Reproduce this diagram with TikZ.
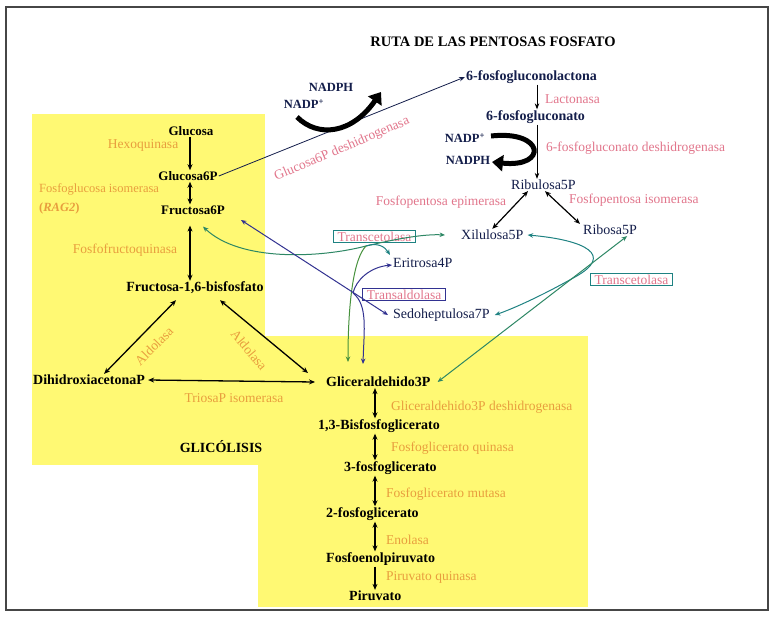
\documentclass[tikz,border=0pt]{standalone}
\usepackage{fontspec}
\setmainfont{Liberation Serif}
\usetikzlibrary{arrows.meta,calc}
\definecolor{ylw}{RGB}{255,249,115}
\definecolor{navyc}{RGB}{20,30,75}
\definecolor{pinkc}{RGB}{226,118,140}
\definecolor{orangec}{RGB}{232,158,62}
\definecolor{tealc}{RGB}{30,130,130}
\definecolor{greenc}{RGB}{70,145,60}
\definecolor{tgreen}{RGB}{45,135,100}
\definecolor{bluec}{RGB}{50,50,145}
\definecolor{framec}{RGB}{70,70,70}
\tikzset{
  gnode/.style={font=\fontsize{14}{16}\selectfont\bfseries, inner sep=1pt, text=black},
  gsmall/.style={font=\fontsize{13}{15}\selectfont\bfseries, inner sep=1pt, text=black},
  pnode/.style={font=\fontsize{14}{16}\selectfont, inner sep=1pt, text=navyc},
  pbold/.style={font=\fontsize{14}{16}\selectfont\bfseries, inner sep=1pt, text=navyc},
  nadp/.style={font=\fontsize{12.5}{15}\selectfont\bfseries, inner sep=1pt, text=navyc},
  enzp/.style={font=\fontsize{13.5}{16}\selectfont, inner sep=1pt, text=pinkc},
  enzo/.style={font=\fontsize{13.5}{16}\selectfont, inner sep=1pt, text=orangec},
  tbox/.style={font=\fontsize{13.5}{16}\selectfont, text=pinkc, draw=tealc, line width=0.9pt, inner xsep=4pt, inner ysep=1.5pt},
  abox/.style={font=\fontsize{13.5}{16}\selectfont, text=pinkc, draw=bluec, line width=0.9pt, inner xsep=4pt, inner ysep=1.5pt},
  tip/.tip={Stealth[length=6pt,width=5pt]},
  blk/.style={draw=black, line width=1.3pt, -tip},
  blkd/.style={draw=black, line width=1.3pt, tip-tip},
  thin/.style={draw=black, line width=0.8pt, -{Stealth[length=6pt,width=4.5pt]}},
  thinl/.style={draw=navyc, line width=0.8pt, -{Stealth[length=6pt,width=4.5pt]}},
  ctip/.tip={Stealth[length=5.5pt,width=4.5pt]},
  tgc/.style={draw=tgreen, line width=1pt},
  grc/.style={draw=greenc, line width=1pt},
  tlc/.style={draw=tealc, line width=1pt},
  blc/.style={draw=bluec, line width=1pt},
  fat/.style={draw=black, line width=5pt, -{Triangle[length=11pt,width=16pt]}},
}
\begin{document}
\begin{tikzpicture}[x=1pt,y=-1pt]
\useasboundingbox (0,0) rectangle (774,616);
\fill[white] (0,0) rectangle (774,616);
% yellow areas
\fill[ylw] (32,114) rectangle (265,465);
\fill[ylw] (258,336) rectangle (588,607);
% frame
\draw[framec, line width=1.4pt] (6,7) rectangle (768,610);

% titles
\node[font=\fontsize{14.5}{16}\selectfont\bfseries] (title) at (493,42) {RUTA DE LAS PENTOSAS FOSFATO};
\node[font=\fontsize{14}{16}\selectfont\bfseries] (glic) at (221,447) {GLICÓLISIS};

% column references
\coordinate (colg) at (190,0);
\coordinate (coll) at (375,0);
\coordinate (colp) at (537,0);

% glycolysis nodes
\node[gsmall] (glc) at (191,131) {Glucosa};
\node[gsmall] (g6p) at (188,176) {Glucosa6P};
\node[gsmall] (f6p) at (193,210) {Fructosa6P};
\node[gnode] (f16) at (195,288) {Fructosa-1,6-bisfosfato};
\node[gnode, anchor=west] (dhap) at (32,380) {DihidroxiacetonaP};
\node[gnode, anchor=west] (g3p) at (325,382) {Gliceraldehido3P};
\node[gnode, anchor=west] (bpg) at (317,426) {1,3-Bisfosfoglicerato};
\node[gnode, anchor=west] (pg3) at (343,468) {3-fosfoglicerato};
\node[gnode, anchor=west] (pg2) at (325,514) {2-fosfoglicerato};
\node[gnode, anchor=west] (pep) at (325,559) {Fosfoenolpiruvato};
\node[gnode, anchor=west] (pyr) at (348,596) {Piruvato};

% pentose nodes
\node[pbold, anchor=west] (lac) at (465,77) {6-fosfogluconolactona};
\node[pbold, anchor=west] (pgn) at (485,117) {6-fosfogluconato};
\node[pnode, anchor=west] (ru5p) at (510,185) {Ribulosa5P};
\node[pnode, anchor=west] (xu5p) at (460,235) {Xilulosa5P};
\node[pnode, anchor=west] (r5p) at (582,230) {Ribosa5P};
\node[pnode, anchor=west] (e4p) at (392,263) {Eritrosa4P};
\node[pnode, anchor=west] (s7p) at (392,315) {Sedoheptulosa7P};
\node[nadp] (nadph1) at (331,87) {NADPH};
\node[nadp] (nadp1) at (304,104) {NADP\textsuperscript{+}};
\node[nadp] (nadp2) at (465,138) {NADP\textsuperscript{+}};
\node[nadp] (nadph2) at (468,160) {NADPH};

% enzyme boxes
\node[tbox] (tk1) at (374.5,236.5) {Transcetolasa};
\node[abox] (ta) at (404,294.5) {Transaldolasa};
\node[tbox] (tk2) at (631.5,279.5) {Transcetolasa};

% pentose enzymes
\node[enzp, anchor=west] (lactonasa) at (544,99) {Lactonasa};
\node[enzp, anchor=west] (pgdh) at (545,148) {6-fosfogluconato deshidrogenasa};
\node[enzp] (epim) at (441,202) {Fosfopentosa epimerasa};
\node[enzp, anchor=west] (isom) at (568,200) {Fosfopentosa isomerasa};
\node[enzp, rotate=23] (g6pdh) at (342,149) {Glucosa6P deshidrogenasa};

% glycolysis enzymes
\node[enzo] (hk) at (143,145) {Hexoquinasa};
\node[enzo, anchor=west, font=\fontsize{12.5}{15}\selectfont] (pgi) at (38,189) {Fosfoglucosa isomerasa};
\node[enzo, anchor=west, font=\fontsize{12.5}{15}\selectfont\bfseries] (rag) at (38,208) {(\textit{RAG2})};
\node[enzo] (pfk) at (125,250) {Fosfofructoquinasa};
\node[enzo, rotate=45] (ald1) at (154,346) {Aldolasa};
\node[enzo, rotate=-50] (ald2) at (249,350) {Aldolasa};
\node[enzo] (tpi) at (234,398) {TriosaP isomerasa};
\node[enzo, anchor=west] (gapdh) at (390,407) {Gliceraldehido3P deshidrogenasa};
\node[enzo, anchor=west] (pgk) at (390,448) {Fosfoglicerato quinasa};
\node[enzo, anchor=west] (pgm) at (385,494) {Fosfoglicerato mutasa};
\node[enzo, anchor=west] (eno) at (385,540) {Enolasa};
\node[enzo, anchor=west] (pk) at (385,577) {Piruvato quinasa};

% glycolysis arrows
\draw[blk] (glc.south -| colg) -- (g6p.north -| colg);
\draw[blkd] (g6p.south -| colg) -- (f6p.north -| colg);
\draw[blkd, shorten <=10pt] (f6p.south -| colg) -- (f16.north -| colg);
\draw[blkd] ([xshift=-19pt,yshift=-5pt]f16.south) -- ([xshift=15pt]dhap.north);
\draw[blkd] ([xshift=25pt,yshift=-5pt]f16.south) -- ([xshift=-17pt,yshift=9pt]g3p.west);
\draw[blkd] ([xshift=2pt]dhap.east) -- ([xshift=-10pt]g3p.west);
\draw[blkd] (g3p.south -| coll) -- (bpg.north -| coll);
\draw[blkd] (bpg.south -| coll) -- (pg3.north -| coll);
\draw[blkd] (pg3.south -| coll) -- (pg2.north -| coll);
\draw[blkd] (pg2.south -| coll) -- (pep.north -| coll);
\draw[blk] (pep.south -| coll) -- (pyr.north -| coll);

% pentose arrows
\draw[thinl] (g6p.east) -- (lac.west);
\draw[thin] (lac.south -| colp) -- (pgn.north -| colp);
\draw[thin] (pgn.south -| colp) -- (ru5p.north -| colp);
\draw[draw=black, line width=1.2pt, tip-tip] ([xshift=18pt]ru5p.south west) -- (xu5p.north);
\draw[draw=black, line width=1.2pt, tip-tip] ([xshift=35pt]ru5p.south west) -- ([xshift=-2pt]r5p.north west);

% NADP thick arrows
\coordinate (na1s) at (297,117);
\coordinate (na1e) at (381,92);
\draw[fat] (na1s) .. controls (318,138) and (352,134) .. (na1e);
\coordinate (na2s) at (491,136);
\coordinate (na2e) at (492,162);
\draw[fat] (na2s) .. controls (545,130) and (548,168) .. (na2e);

% transketolase / transaldolase connectors
\coordinate (hub1) at (366,246);
\coordinate (hub2) at (353,293);
\draw[tgc, ctip-ctip] ([xshift=10pt,yshift=-11pt]f6p.south) .. controls (240,262) and (320,258) .. (hub1) .. controls (400,238) and (425,234) .. ([xshift=-15pt]xu5p.west);
\draw[tlc, -ctip] (hub1) .. controls (378,242) and (385,247) .. ([xshift=-2pt,yshift=8pt]e4p.west);
\draw[grc, -ctip] (hub1) .. controls (354,258) and (348,300) .. ([xshift=23pt,yshift=20pt]g3p.west);
\draw[blc, ctip-ctip] ([xshift=15pt,yshift=-10pt]f6p.east) -- ([xshift=-4pt]s7p.west);
\draw[blc, -ctip] (hub2) .. controls (356,280) and (370,267) .. ([yshift=-2pt]e4p.west);
\draw[blc, -ctip] (hub2) .. controls (368,305) and (364,330) .. ([xshift=38pt,yshift=18pt]g3p.west);
\draw[tlc, ctip-ctip] ([xshift=3pt]xu5p.east) .. controls (585,240) and (615,255) .. (575,277) .. controls (545,294) and (515,308) .. ([xshift=4pt]s7p.east);
\draw[tgc, ctip-ctip] ([xshift=-11pt]r5p.south east) -- ([xshift=6pt]g3p.east);
\end{tikzpicture}
\end{document}
